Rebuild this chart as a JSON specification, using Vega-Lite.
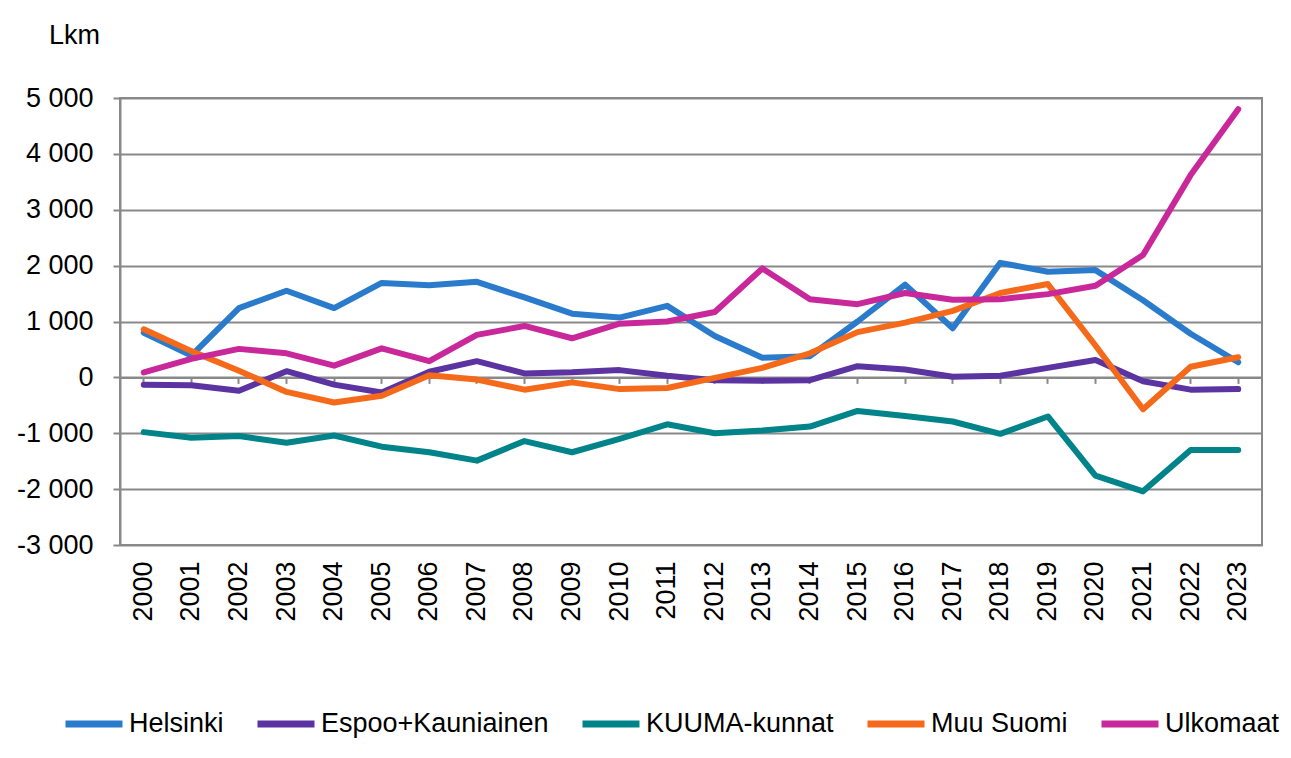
{
  "$schema": "https://vega.github.io/schema/vega-lite/v6.json",
  "width": 1142,
  "height": 447,
  "autosize": {"type": "none"},
  "padding": {"left": 120, "top": 98, "right": 29, "bottom": 213},
  "background": "white",
  "config": {
    "font": "Liberation Sans",
    "locale": {"number": {"decimal": ",", "thousands": " ", "grouping": [3], "currency": ["", " €"], "minus": "-"}},
    "view": {"stroke": "#898989", "strokeWidth": 2},
    "axis": {"labelFont": "Liberation Sans", "titleFont": "Liberation Sans", "labelColor": "#000000", "titleColor": "#000000"},
    "legend": {"labelFont": "Liberation Sans"}
  },
  "data": {
    "values": [
      {"year": "2000", "Helsinki": 800, "Espoo+Kauniainen": -130, "KUUMA-kunnat": -980, "Muu Suomi": 860, "Ulkomaat": 90},
      {"year": "2001", "Helsinki": 390, "Espoo+Kauniainen": -140, "KUUMA-kunnat": -1080, "Muu Suomi": 470, "Ulkomaat": 330},
      {"year": "2002", "Helsinki": 1240, "Espoo+Kauniainen": -240, "KUUMA-kunnat": -1050, "Muu Suomi": 120, "Ulkomaat": 510},
      {"year": "2003", "Helsinki": 1550, "Espoo+Kauniainen": 110, "KUUMA-kunnat": -1170, "Muu Suomi": -260, "Ulkomaat": 430},
      {"year": "2004", "Helsinki": 1240, "Espoo+Kauniainen": -130, "KUUMA-kunnat": -1040, "Muu Suomi": -450, "Ulkomaat": 210},
      {"year": "2005", "Helsinki": 1690, "Espoo+Kauniainen": -270, "KUUMA-kunnat": -1240, "Muu Suomi": -330, "Ulkomaat": 520},
      {"year": "2006", "Helsinki": 1650, "Espoo+Kauniainen": 100, "KUUMA-kunnat": -1340, "Muu Suomi": 40, "Ulkomaat": 290},
      {"year": "2007", "Helsinki": 1710, "Espoo+Kauniainen": 290, "KUUMA-kunnat": -1490, "Muu Suomi": -40, "Ulkomaat": 760},
      {"year": "2008", "Helsinki": 1430, "Espoo+Kauniainen": 70, "KUUMA-kunnat": -1140, "Muu Suomi": -220, "Ulkomaat": 920},
      {"year": "2009", "Helsinki": 1140, "Espoo+Kauniainen": 90, "KUUMA-kunnat": -1340, "Muu Suomi": -90, "Ulkomaat": 700},
      {"year": "2010", "Helsinki": 1070, "Espoo+Kauniainen": 130, "KUUMA-kunnat": -1100, "Muu Suomi": -210, "Ulkomaat": 960},
      {"year": "2011", "Helsinki": 1280, "Espoo+Kauniainen": 30, "KUUMA-kunnat": -840, "Muu Suomi": -190, "Ulkomaat": 1000},
      {"year": "2012", "Helsinki": 740, "Espoo+Kauniainen": -50, "KUUMA-kunnat": -1000, "Muu Suomi": -10, "Ulkomaat": 1170},
      {"year": "2013", "Helsinki": 350, "Espoo+Kauniainen": -60, "KUUMA-kunnat": -950, "Muu Suomi": 170, "Ulkomaat": 1950},
      {"year": "2014", "Helsinki": 380, "Espoo+Kauniainen": -50, "KUUMA-kunnat": -880, "Muu Suomi": 430, "Ulkomaat": 1400},
      {"year": "2015", "Helsinki": 1000, "Espoo+Kauniainen": 200, "KUUMA-kunnat": -600, "Muu Suomi": 810, "Ulkomaat": 1310},
      {"year": "2016", "Helsinki": 1660, "Espoo+Kauniainen": 140, "KUUMA-kunnat": -690, "Muu Suomi": 980, "Ulkomaat": 1510},
      {"year": "2017", "Helsinki": 880, "Espoo+Kauniainen": 10, "KUUMA-kunnat": -790, "Muu Suomi": 1190, "Ulkomaat": 1390},
      {"year": "2018", "Helsinki": 2050, "Espoo+Kauniainen": 30, "KUUMA-kunnat": -1010, "Muu Suomi": 1510, "Ulkomaat": 1400},
      {"year": "2019", "Helsinki": 1890, "Espoo+Kauniainen": 170, "KUUMA-kunnat": -700, "Muu Suomi": 1670, "Ulkomaat": 1490},
      {"year": "2020", "Helsinki": 1920, "Espoo+Kauniainen": 310, "KUUMA-kunnat": -1760, "Muu Suomi": 570, "Ulkomaat": 1640},
      {"year": "2021", "Helsinki": 1380, "Espoo+Kauniainen": -70, "KUUMA-kunnat": -2040, "Muu Suomi": -570, "Ulkomaat": 2190},
      {"year": "2022", "Helsinki": 780, "Espoo+Kauniainen": -220, "KUUMA-kunnat": -1300, "Muu Suomi": 190, "Ulkomaat": 3620},
      {"year": "2023", "Helsinki": 270, "Espoo+Kauniainen": -210, "KUUMA-kunnat": -1300, "Muu Suomi": 360, "Ulkomaat": 4800}
    ]
  },
  "resolve": {"axis": {"x": "independent"}},
  "layer": [
    {
      "mark": {"type": "point", "opacity": 0},
      "encoding": {
        "x": {
          "field": "year", "type": "ordinal",
          "scale": {"type": "band", "paddingInner": 0, "paddingOuter": 0},
          "axis": {"orient": "bottom", "offset": -167.6, "labels": false, "ticks": true, "tickSize": 6, "tickWidth": 2, "tickColor": "#898989", "domain": true, "domainColor": "#898989", "domainWidth": 2, "grid": false, "title": null}
        },
        "y": {"datum": 0, "type": "quantitative"}
      }
    },
    {
      "transform": [{"fold": ["Helsinki", "Espoo+Kauniainen", "KUUMA-kunnat", "Muu Suomi", "Ulkomaat"], "as": ["series", "value"]}],
      "mark": {"type": "line", "strokeWidth": 6, "strokeJoin": "round", "strokeCap": "round"},
      "encoding": {
        "x": {
          "field": "year", "type": "ordinal",
          "scale": {"type": "band", "paddingInner": 0, "paddingOuter": 0},
          "axis": {"orient": "bottom", "labelAngle": -90, "labelFontSize": 27, "labelPadding": 16, "ticks": false, "domain": false, "grid": false, "title": null}
        },
        "y": {
          "field": "value", "type": "quantitative",
          "scale": {"domain": [-3000, 5000], "nice": false, "zero": false},
          "axis": {
            "values": [-3000, -2000, -1000, 0, 1000, 2000, 3000, 4000, 5000],
            "format": ",d",
            "labelFontSize": 27, "labelPadding": 20, "tickSize": 7, "tickWidth": 2, "tickColor": "#898989",
            "domain": true, "domainColor": "#898989", "domainWidth": 2,
            "grid": true, "gridColor": "#898989", "gridWidth": 2,
            "title": "Lkm", "titleAngle": 0, "titleFontSize": 27, "titleFontWeight": "normal",
            "titleAlign": "center", "titleBaseline": "middle", "titleX": -46, "titleY": -63
          }
        },
        "color": {
          "field": "series", "type": "nominal",
          "scale": {
            "domain": ["Helsinki", "Espoo+Kauniainen", "KUUMA-kunnat", "Muu Suomi", "Ulkomaat"],
            "range": ["#2A7BCB", "#5B34A2", "#00848A", "#F5691A", "#C8289A"]
          },
          "legend": {
            "title": null, "orient": "none", "direction": "horizontal",
            "legendX": -58, "legendY": 594,
            "symbolType": "stroke", "symbolSize": 3249, "symbolStrokeWidth": 7,
            "labelFontSize": 27, "labelOffset": 3, "labelLimit": 400, "columnPadding": 19
          }
        }
      }
    }
  ]
}
